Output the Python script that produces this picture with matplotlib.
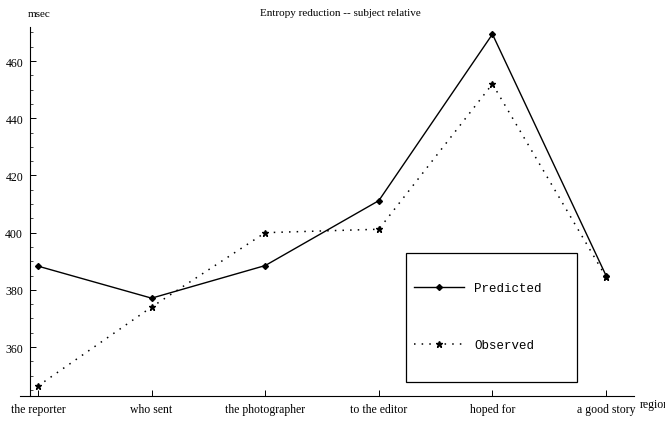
import matplotlib
matplotlib.use("Agg")
import matplotlib.pyplot as plt
from matplotlib.ticker import FixedLocator
from matplotlib.patches import Rectangle

regions = ["the reporter", "who sent", "the photographer", "to the editor", "hoped for", "a good story"]
predicted = [388.3, 377.1, 388.5, 411.2, 469.4, 385.0]
observed = [346.4, 374.0, 400.0, 401.2, 452.0, 384.5]
y_ticks = [360, 380, 400, 420, 440, 460]
y_minor = list(range(345, 471, 5))

serif = ['Liberation Serif', 'DejaVu Serif']
mono = ['Liberation Mono', 'DejaVu Sans Mono']

W, H = 665, 427
fig = plt.figure(figsize=(6.65, 4.27), dpi=100)
ax = fig.add_axes([0, 0, 1, 1])
ax.patch.set_alpha(0)

x = list(range(len(regions)))
ax.plot(x, predicted, '-', color='black', lw=1.0, marker='D', markersize=3, label='Predicted')
ax.plot(x, observed, linestyle=(0, (1, 4)), color='black', lw=1.1, marker='*', markersize=5, label='Observed')

ax.set_xlim(-0.3345, 5.519)
ax.set_ylim(332.4, 481.7)

# Mathematica style axes crossing near the first point
for s in ['top', 'right']:
    ax.spines[s].set_visible(False)
ax.spines['left'].set_position(('data', -0.07))
ax.spines['left'].set_bounds(342.9, 471.9)
ax.spines['bottom'].set_position(('data', 342.9))
ax.spines['bottom'].set_bounds(-0.16, 5.25)
ax.spines['left'].set_linewidth(0.8)
ax.spines['bottom'].set_linewidth(0.8)

ax.set_xticks(x)
ax.set_xticklabels(regions, fontfamily=serif, fontsize=8.5)
ax.set_yticks(y_ticks)
ax.set_yticklabels([str(v) for v in y_ticks], fontfamily=serif, fontsize=8.5)
ax.yaxis.set_minor_locator(FixedLocator([v for v in y_minor if v not in y_ticks]))
ax.tick_params(axis='both', direction='in', length=4, width=0.7, pad=5)
ax.tick_params(axis='y', which='minor', direction='in', length=2, width=0.5)

fig.text(0.512, 0.968, "Entropy reduction -- subject relative", ha='center', va='center',
         fontfamily=serif, fontsize=8)
fig.text(0.042, 0.966, "msec", ha='left', va='center', fontfamily=serif, fontsize=8)
fig.text(0.962, 0.052, "region", ha='left', va='center', fontfamily=serif, fontsize=8.5)

# legend entries without frame, box drawn separately
leg = ax.legend(loc='upper left', bbox_to_anchor=(414 / W, 1 - 283 / H), prop={'family': mono, 'size': 9},
                frameon=False, borderpad=0, labelspacing=3.6,
                handlelength=4.0, handletextpad=0.8, borderaxespad=0)
fig.patches.append(Rectangle((406 / W, 1 - 383 / H), (577 - 406) / W, (383 - 254) / H,
                             transform=fig.transFigure, fill=False, edgecolor='black', lw=0.9))

fig.savefig("out.png", dpi=100)
